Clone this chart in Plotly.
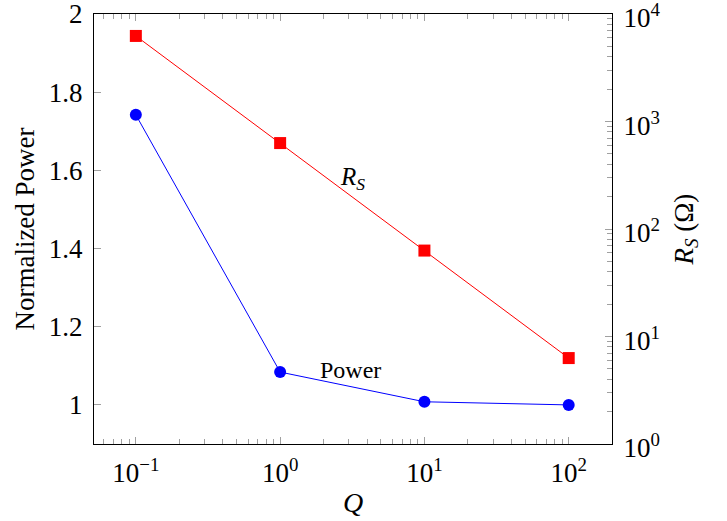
import plotly.graph_objects as go

Q = [0.1, 1, 10, 100]
power = [1.742, 1.084, 1.008, 1.0]
rs = [6250, 630, 63, 6.3]

x_ticks = [0.1, 1, 10, 100]
x_ticklabels = ["10<sup>−1</sup>", "10<sup>0</sup>", "10<sup>1</sup>", "10<sup>2</sup>"]
p_ticks = [1, 1.2, 1.4, 1.6, 1.8, 2]
p_ticklabels = ["1", "1.2", "1.4", "1.6", "1.8", "2"]
r_ticks = [1, 10, 100, 1000, 10000]
r_ticklabels = ["10<sup>0</sup>", "10<sup>1</sup>", "10<sup>2</sup>", "10<sup>3</sup>", "10<sup>4</sup>"]

def minor_vals(lo, hi):
    out = []
    for e in range(lo, hi):
        for d in range(2, 10):
            out.append(d * 10.0 ** e)
    return out

FONT = "Liberation Serif"
TICKC = "#a0a0a0"

fig = go.Figure()
fig.add_trace(go.Scatter(x=Q, y=power, mode="lines+markers", name="Power",
                         line=dict(color="#0000ff", width=1),
                         marker=dict(symbol="circle", size=12, color="#0000ff"),
                         yaxis="y"))
fig.add_trace(go.Scatter(x=Q, y=rs, mode="lines+markers", name="R_S",
                         line=dict(color="#ff0000", width=1),
                         marker=dict(symbol="square", size=12, color="#ff0000"),
                         yaxis="y2"))

# annotations on log axes use log10 coordinates
fig.add_annotation(x=0.5, y=2.47, xref="x", yref="y2", xanchor="center", yanchor="middle",
                   text="<i>R</i><sub><i>S</i></sub>", showarrow=False,
                   font=dict(family=FONT, size=25, color="black"))
fig.add_annotation(x=0.485, y=1.09, xref="x", yref="y", xanchor="center", yanchor="middle",
                   text="Power", showarrow=False,
                   font=dict(family=FONT, size=24, color="black"))

fig.update_layout(
    width=727, height=521,
    margin=dict(l=94, r=115, t=14, b=77),
    paper_bgcolor="white", plot_bgcolor="white",
    showlegend=False,
    font=dict(family=FONT, color="black", size=27),
    xaxis=dict(type="log", range=[-1.29, 2.30], tickvals=x_ticks, ticktext=x_ticklabels,
               automargin=False,
               showgrid=False, zeroline=False, showline=True, linecolor="black", linewidth=1,
               mirror="ticks", ticks="inside", ticklen=7, tickcolor=TICKC,
               minor=dict(tickvals=minor_vals(-2, 3), ticks="inside", ticklen=5,
                          tickcolor=TICKC, showgrid=False),
               title=dict(text="<i>Q</i>", font=dict(size=28), standoff=4),
               tickfont=dict(size=27), ticklabelstandoff=5),
    yaxis=dict(range=[0.9, 2.0], tickvals=p_ticks, ticktext=p_ticklabels,
               automargin=False, ticklabeloverflow="allow",
               showgrid=False, zeroline=False, showline=True, linecolor="black", linewidth=1,
               ticks="inside", ticklen=7, tickcolor=TICKC,
               title=dict(text="Normalized Power", font=dict(size=27), standoff=6),
               tickfont=dict(size=27), ticklabelstandoff=5),
    yaxis2=dict(type="log", range=[0, 4], tickvals=r_ticks, ticktext=r_ticklabels,
                automargin=False, ticklabeloverflow="allow", ticklabelshift=4,
                overlaying="y", side="right",
                showgrid=False, zeroline=False, showline=True, linecolor="black", linewidth=1,
                ticks="inside", ticklen=7, tickcolor=TICKC,
                minor=dict(tickvals=minor_vals(0, 4), ticks="inside", ticklen=5,
                           tickcolor=TICKC, showgrid=False),
                title=dict(text="<i>R</i><sub><i>S</i></sub> (Ω)", font=dict(size=27), standoff=14),
                tickfont=dict(size=27), ticklabelstandoff=5),
)

fig.write_html("out.html", config={"displayModeBar": False},
               post_script="document.body.style.margin='0';")
